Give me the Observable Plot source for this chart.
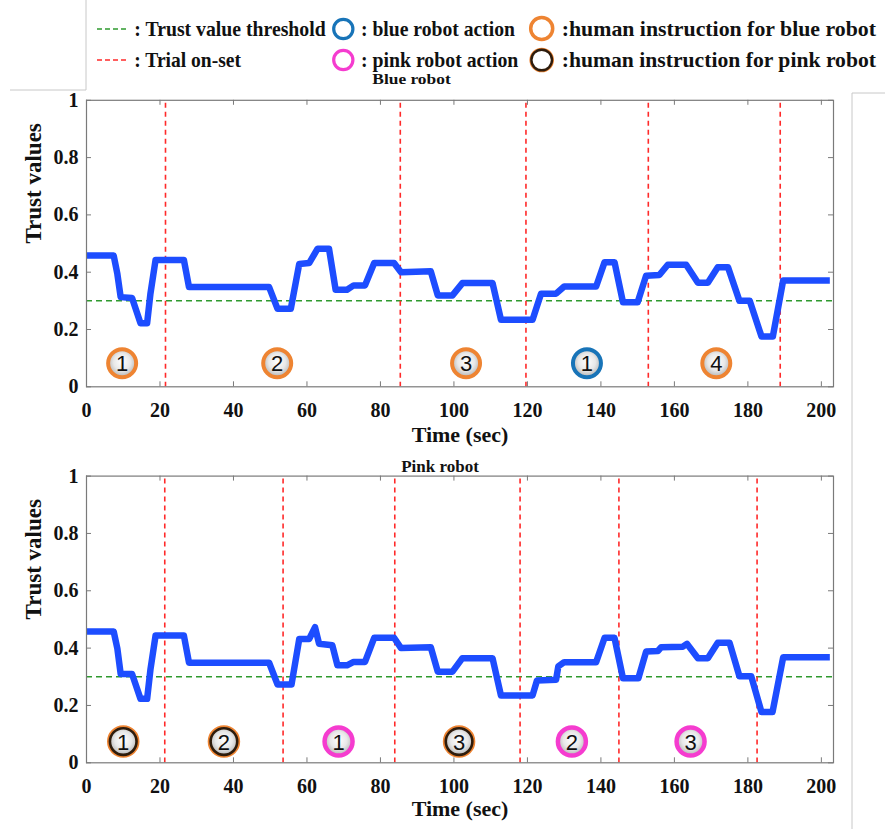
<!DOCTYPE html>
<html><head><meta charset="utf-8">
<script src="https://cdn.jsdelivr.net/npm/d3@7"></script>
<script src="https://cdn.jsdelivr.net/npm/@observablehq/plot@0.6"></script>
<style>
body{margin:0;background:#fff;}
#root{position:relative;width:885px;height:829px;overflow:hidden;font-family:"Liberation Serif",serif;}
#root > svg{position:absolute;left:0;overflow:visible;}
</style></head><body><div id="root"></div>
<script>
// ---------- data ----------
const xTicks = [0, 20, 40, 60, 80, 100, 120, 140, 160, 180, 200];
const yTicks = [0, 0.2, 0.4, 0.6, 0.8, 1];
const yTickLabels = ["0", "0.2", "0.4", "0.6", "0.8", "1"];
const threshold = 0.3;

// Blue robot trust (top panel)
const blueTime = [0,7.4,8.4,9.3,12.4,14.7,16.5,17.4,18.8,26.5,27.9,49.7,52,55.6,57.9,60.6,62.9,66,67.8,70.9,72.7,75.8,78.3,83.7,85.6,93.7,95.6,99.6,102.3,110.5,112.8,121.4,123.7,127.8,130,138.7,141,143.7,146,150,152.3,155.9,158.2,163.2,166.4,169.1,171.8,174.6,177.7,180.5,183.7,186.8,189.6,202.3];
const blueTrust = [0.458,0.458,0.394,0.313,0.31,0.222,0.222,0.325,0.443,0.443,0.348,0.348,0.272,0.272,0.429,0.432,0.482,0.482,0.339,0.339,0.354,0.354,0.432,0.432,0.40,0.403,0.319,0.319,0.362,0.362,0.234,0.234,0.325,0.325,0.35,0.35,0.435,0.435,0.295,0.295,0.388,0.39,0.426,0.426,0.363,0.363,0.417,0.417,0.30,0.30,0.176,0.176,0.371,0.371];
const blueOnsets = [21.5, 85.4, 119.6, 152.9, 188.8];
const blueMarkTime = [9.7, 51.9, 103.3, 136.2, 171.4];
const blueMarkLabel = ["1", "2", "3", "1", "4"];
const blueMarkKind = ["humanBlue", "humanBlue", "humanBlue", "blueAction", "humanBlue"];
const blueMarkLevel = 0.082;

// Pink robot trust (bottom panel)
const pinkTime = [0,7.4,8.4,9.3,12.4,14.7,16.5,17.4,18.8,26.5,27.9,49.7,52,55.8,57.9,60.6,62.2,63.3,66.9,68.3,70.9,72.7,75.8,78.3,83.7,85.6,93.7,95.6,99.6,102.3,110.5,112.8,121.4,122.6,127.8,128.4,130,138.7,141,143.7,146,150.2,152.3,155.5,156.4,162.3,163.4,166.4,169.1,171.8,175,177.7,180.9,183.7,186.7,189.6,202.3];
const pinkTrust = [0.458,0.458,0.398,0.31,0.31,0.223,0.223,0.325,0.444,0.444,0.349,0.349,0.273,0.273,0.432,0.432,0.473,0.415,0.41,0.34,0.34,0.352,0.352,0.436,0.436,0.40,0.403,0.318,0.318,0.365,0.365,0.235,0.235,0.287,0.29,0.336,0.351,0.351,0.436,0.436,0.295,0.295,0.388,0.39,0.403,0.405,0.415,0.365,0.365,0.419,0.419,0.302,0.302,0.177,0.177,0.368,0.368];
const pinkOnsets = [21.3, 53.5, 83.9, 118, 144.9, 182.5];
const pinkMarkTime = [10, 37.4, 68.6, 101.4, 132.1, 164.4];
const pinkMarkLabel = ["1", "2", "1", "3", "2", "3"];
const pinkMarkKind = ["humanPink", "humanPink", "pinkAction", "humanPink", "pinkAction", "pinkAction"];
const pinkMarkLevel = 0.074;

// ---------- styling ----------
const SERIF = "Liberation Serif";
const C = {
  line: "#1d4dff", green: "#2f9a2f", red: "#ff2a2a", frame: "#7a7a7a",
  orange: "#ee8432", blue: "#1874b8", pink: "#f53ccf", brown: "#2e1c0c"
};
const W = 885, ML = 86, MR = 52, XMAX = 203.3;

function panel({time, trust, onsets, mt, ml, mk, level, top, height, mTop, mBottom, titleDy}) {
  const series = time.map((t, i) => ({t, v: trust[i]}));
  const marks = mt.map((t, i) => ({t, label: ml[i], kind: mk[i], y: level}));
  const plotW = W - ML - MR;
  const plotH = height - mTop - mBottom;
  const ring = (kinds, color, r, sw) => Plot.dot(marks.filter(d => kinds.includes(d.kind)),
      {x: "t", y: "y", r, stroke: color, strokeWidth: sw, fill: "none"});
  const svg = Plot.plot({
    width: W, height,
    marginLeft: ML, marginRight: MR, marginTop: mTop, marginBottom: mBottom,
    x: {domain: [0, XMAX]},
    y: {domain: [0, 1]},
    style: {fontFamily: SERIF, fontSize: "20px", fontWeight: "bold", color: "#111", background: "transparent", overflow: "visible"},
    marks: [
      Plot.ruleY([threshold], {stroke: C.green, strokeWidth: 1.5, strokeDasharray: "6,4"}),
      Plot.ruleX(onsets, {stroke: C.red, strokeWidth: 1.6, strokeDasharray: "5,4", insetTop: 3}),
      Plot.line(series, {x: "t", y: "v", stroke: C.line, strokeWidth: 6.5, strokeLinejoin: "round", strokeLinecap: "butt"}),
      Plot.dot(marks, {x: "t", y: "y", r: 14, fill: "url(#ringFill)", stroke: "none"}),
      ring(["humanBlue"], C.orange, 14, 4),
      ring(["blueAction"], C.blue, 14, 4),
      ring(["pinkAction"], C.pink, 14, 4.5),
      ring(["humanPink"], C.orange, 15, 2.5),
      ring(["humanPink"], C.brown, 13.3, 2.6),
      Plot.text(marks, {x: "t", y: "y", text: "label", fontFamily: "Liberation Sans", fontSize: 22, fontWeight: "normal", fill: "#111", dy: 1}),
      Plot.frame({stroke: C.frame, strokeWidth: 1.2}),
      Plot.tickX(xTicks, {x: d => d, insetTop: plotH - 5, stroke: C.frame}),
      Plot.tickX(xTicks, {x: d => d, insetBottom: plotH - 5, stroke: C.frame}),
      Plot.tickY(yTicks, {y: d => d, insetRight: plotW - 5, stroke: C.frame}),
      Plot.tickY(yTicks, {y: d => d, insetLeft: plotW - 5, stroke: C.frame}),
      Plot.axisX({ticks: xTicks, tickSize: 0, tickPadding: 16, label: null, fontSize: 20, fontWeight: "bold", fontFamily: SERIF}),
      Plot.axisY({ticks: yTicks, tickFormat: d => yTickLabels[yTicks.indexOf(d)], tickSize: 0, tickPadding: 8, label: null, fontSize: 20, fontWeight: "bold", fontFamily: SERIF}),
      Plot.text(["Time (sec)"], {frameAnchor: "bottom", dy: titleDy, fontSize: 22, fontWeight: "bold", fontFamily: SERIF, fill: "#111"}),
      Plot.text(["Trust values"], {frameAnchor: "left", dx: -53, rotate: -90, fontSize: 23, fontWeight: "bold", fontFamily: SERIF, fill: "#111"})
    ]
  });
  // gradient for ring interiors
  const ns = "http://www.w3.org/2000/svg";
  const defs = document.createElementNS(ns, "defs");
  defs.innerHTML = `<radialGradient id="ringFill" cx="50%" cy="45%" r="55%">
      <stop offset="0%" stop-color="#ffffff"/><stop offset="55%" stop-color="#e8e8e8"/><stop offset="100%" stop-color="#b0b0b0"/></radialGradient>`;
  svg.insertBefore(defs, svg.firstChild);
  svg.style.top = top + "px";
  return svg;
}

const root = document.getElementById("root");
root.appendChild(panel({time: blueTime, trust: blueTrust, onsets: blueOnsets, mt: blueMarkTime, ml: blueMarkLabel, mk: blueMarkKind,
  level: blueMarkLevel, top: 80, height: 372, mTop: 19.8, mBottom: 65.7, titleDy: 55}));
root.appendChild(panel({time: pinkTime, trust: pinkTrust, onsets: pinkOnsets, mt: pinkMarkTime, ml: pinkMarkLabel, mk: pinkMarkKind,
  level: pinkMarkLevel, top: 460, height: 369, mTop: 15.6, mBottom: 66.7, titleDy: 53}));

// ---------- legend, titles and page decorations ----------
const ov = document.createElementNS("http://www.w3.org/2000/svg", "svg");
ov.setAttribute("width", 885); ov.setAttribute("height", 829);
ov.style.top = "0px"; ov.style.pointerEvents = "none";
ov.innerHTML = `
<g stroke="#c8c8c8" stroke-width="1" fill="none">
  <line x1="86" y1="0" x2="86" y2="90"/><line x1="10" y1="90" x2="86" y2="90"/>
  <line x1="852" y1="93" x2="852" y2="829"/><line x1="852" y1="93" x2="885" y2="93"/>
</g>
<g font-family="${SERIF}" font-weight="bold" font-size="21" fill="#111" dominant-baseline="central">
  <line x1="97" y1="29" x2="128" y2="29" stroke="${C.green}" stroke-width="1.5" stroke-dasharray="5,3"/>
  <text x="134.3" y="29" textLength="191.4" lengthAdjust="spacingAndGlyphs">: Trust value threshold</text>
  <line x1="97" y1="60" x2="128" y2="60" stroke="${C.red}" stroke-width="1.5" stroke-dasharray="5,3"/>
  <text x="134.3" y="60" textLength="106.7" lengthAdjust="spacingAndGlyphs">: Trial on-set</text>
  <circle cx="343.3" cy="29" r="9.6" fill="#fff" stroke="${C.blue}" stroke-width="3.2"/>
  <text x="361" y="29" textLength="154" lengthAdjust="spacingAndGlyphs">: blue robot action</text>
  <circle cx="343.3" cy="60" r="9.6" fill="#fff" stroke="${C.pink}" stroke-width="3.2"/>
  <text x="361" y="60" textLength="157.3" lengthAdjust="spacingAndGlyphs">: pink robot action</text>
  <circle cx="541.7" cy="28.5" r="11" fill="#fff" stroke="${C.orange}" stroke-width="3.5"/>
  <text x="561.7" y="29" textLength="314.3" lengthAdjust="spacingAndGlyphs">:human instruction for blue robot</text>
  <circle cx="541.7" cy="60" r="11.6" fill="#fff" stroke="${C.orange}" stroke-width="1.4"/>
  <circle cx="541.7" cy="60" r="10.3" fill="none" stroke="${C.brown}" stroke-width="2.4"/>
  <text x="561.7" y="60" textLength="314.3" lengthAdjust="spacingAndGlyphs">:human instruction for pink robot</text>
  <text x="411.5" y="78.5" font-size="15" text-anchor="middle" textLength="78.4" lengthAdjust="spacingAndGlyphs">Blue robot</text>
  <text x="440" y="466" font-size="17" text-anchor="middle">Pink robot</text>
</g>`;
root.appendChild(ov);
</script></body></html>
